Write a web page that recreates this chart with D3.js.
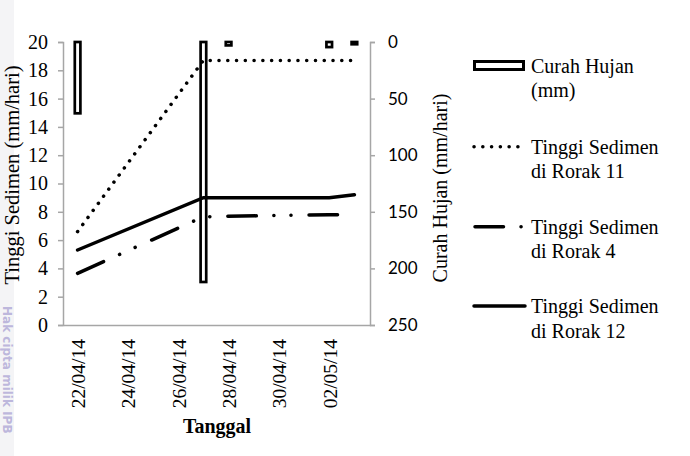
<!DOCTYPE html>
<html><head><meta charset="utf-8">
<script src="https://cdn.jsdelivr.net/npm/d3@7"></script>
<style>
html,body{margin:0;padding:0;background:#fff;}
svg{display:block;}
</style></head>
<body>
<svg id="chart" width="690" height="456"></svg>
<script>
// ---- data ----
const rainDates = ["22/04/14","27/04/14","28/04/14","02/05/14","03/05/14"];
const rainValues = [63, 212, 3, 4.5, 2];
const r11Dates = ["22/04/14","27/04/14","28/04/14","03/05/14"];
const r11Values = [6.6, 18.7, 18.7, 18.7];
const r4Dates = ["22/04/14","27/04/14","02/05/14","03/05/14"];
const r4Values = [3.65, 7.65, 7.8, 7.8];
const r12Dates = ["22/04/14","27/04/14","02/05/14","03/05/14"];
const r12Values = [5.3, 9.0, 9.0, 9.2];
const xTickLabels = ["22/04/14","24/04/14","26/04/14","28/04/14","30/04/14","02/05/14"];
const leftTicks = [0,2,4,6,8,10,12,14,16,18,20];
const rightTicks = [0,50,100,150,200,250];
const legendLabels = [["Curah Hujan","(mm)"],["Tinggi Sedimen","di Rorak 11"],["Tinggi Sedimen","di Rorak 4"],["Tinggi Sedimen","di Rorak 12"]];

const parse = d3.utcParse("%d/%m/%y");
const fmt = d3.utcFormat("%d/%m/%y");
const DAY = 864e5;
const serif = "'Liberation Serif','Times New Roman',serif";
const axisGray = "#a6a6a6";

const svg = d3.select("#chart");
const L = 63, R = 370, T = 42, B = 325;

const x = d3.scaleUtc()
  .domain([new Date(parse("22/04/14").getTime() - 0.58*DAY), new Date(parse("03/05/14").getTime() + 0.62*DAY)])
  .range([L, R]);
const yL = d3.scaleLinear().domain([0,20]).range([B,T]);
const yR = d3.scaleLinear().domain([0,250]).range([T,B]);

// faint page-edge band and watermark
svg.append("rect").attr("x",0).attr("y",0).attr("width",14).attr("height",456).attr("fill","#f4f4f6");
svg.append("text")
  .attr("transform","translate(3,306) rotate(90)")
  .attr("font-family","'DejaVu Sans',sans-serif").attr("font-weight","bold")
  .attr("font-size",12).attr("fill","#bdb7dc")
  .text("Hak cipta milik IPB");

// bars (hanging from top, right axis)
const bw = 5.6;
svg.append("g").selectAll("rect").data(rainDates.map((d,i)=>({d:parse(d),v:rainValues[i]})))
  .join("rect")
  .attr("x", d => x(d.d) - bw/2)
  .attr("y", yR(0))
  .attr("width", bw)
  .attr("height", d => yR(d.v) - yR(0))
  .attr("fill","#fff").attr("stroke","#000").attr("stroke-width",2.7);

// axes
const gLeft = svg.append("g").attr("transform",`translate(${L},0)`)
  .call(d3.axisLeft(yL).tickValues(leftTicks).tickSize(5).tickPadding(10));
const gRight = svg.append("g").attr("transform",`translate(${R},0)`)
  .call(d3.axisRight(yR).tickValues(rightTicks).tickSize(5).tickPadding(13));
const gBottom = svg.append("g").attr("transform",`translate(0,${B})`)
  .call(d3.axisBottom(x).tickValues(xTickLabels.map(parse)).tickFormat(fmt).tickSize(0));

[gLeft,gRight,gBottom].forEach(g=>{
  g.select(".domain").attr("stroke",axisGray).attr("stroke-width",1.5);
  g.selectAll(".tick line").attr("stroke",axisGray).attr("stroke-width",1.5);
});
gLeft.selectAll("text").attr("font-family",serif).attr("font-size",20).attr("fill","#000");
gRight.selectAll("text").attr("font-family","Lato,'Open Sans',sans-serif").attr("font-size",17).attr("fill","#000");
gBottom.selectAll("text")
  .attr("font-family",serif).attr("font-size",19.5).attr("fill","#000")
  .attr("text-anchor","end")
  .attr("transform","rotate(-90)")
  .attr("x",-14).attr("y",0).attr("dy","0.35em");

// lines
const line = d3.line().x(d=>x(d.d)).y(d=>yL(d.v));
function series(dates, vals){ return dates.map((d,i)=>({d:parse(d),v:vals[i]})); }
svg.append("path").datum(series(r11Dates,r11Values)).attr("d",line)
  .attr("fill","none").attr("stroke","#000").attr("stroke-width",3.5)
  .attr("stroke-linecap","round").attr("stroke-dasharray","0.1 8.67");
svg.append("path").datum(series(r4Dates,r4Values)).attr("d",line)
  .attr("fill","none").attr("stroke","#000").attr("stroke-width",3.5)
  .attr("stroke-linecap","round").attr("stroke-dasharray","28.5 17.5 0.1 17 0.1 18");
svg.append("path").datum(series(r12Dates,r12Values)).attr("d",line)
  .attr("fill","none").attr("stroke","#000").attr("stroke-width",3.5)
  .attr("stroke-linecap","round");

// axis titles
svg.append("text").attr("transform","translate(12,175) rotate(-90)")
  .attr("text-anchor","middle").attr("dy","0.35em")
  .attr("font-family",serif).attr("font-size",20.5).text("Tinggi Sedimen (mm/hari)");
svg.append("text").attr("transform","translate(440,188) rotate(-90)")
  .attr("text-anchor","middle").attr("dy","0.35em")
  .attr("font-family",serif).attr("font-size",20).text("Curah Hujan (mm/hari)");
svg.append("text").attr("x",217).attr("y",433)
  .attr("text-anchor","middle").attr("font-weight","bold")
  .attr("font-family",serif).attr("font-size",20).text("Tanggal");

// legend
const lg = svg.append("g");
const legY = [65.5, 146.7, 226.7, 306];
lg.append("rect").attr("x",474.5).attr("y",legY[0]-4).attr("width",49).attr("height",8)
  .attr("fill","#fff").attr("stroke","#000").attr("stroke-width",3);
lg.append("line").attr("x1",474).attr("x2",520).attr("y1",legY[1]).attr("y2",legY[1])
  .attr("stroke","#000").attr("stroke-width",3.5).attr("stroke-linecap","round").attr("stroke-dasharray","0.1 8.67");
lg.append("line").attr("x1",475).attr("x2",522).attr("y1",legY[2]).attr("y2",legY[2])
  .attr("stroke","#000").attr("stroke-width",3.5).attr("stroke-linecap","round").attr("stroke-dasharray","28.5 17.5 0.1 40");
lg.append("line").attr("x1",474).attr("x2",525).attr("y1",legY[3]).attr("y2",legY[3])
  .attr("stroke","#000").attr("stroke-width",3.5).attr("stroke-linecap","round");
legendLabels.forEach((lines,i)=>{
  const t = lg.append("text").attr("font-family",serif).attr("font-size",20).attr("fill","#000");
  lines.forEach((s,j)=>{
    t.append("tspan").attr("x",531).attr("y",legY[i] + 7 + j*24.5).text(s);
  });
});
</script>
</body></html>
